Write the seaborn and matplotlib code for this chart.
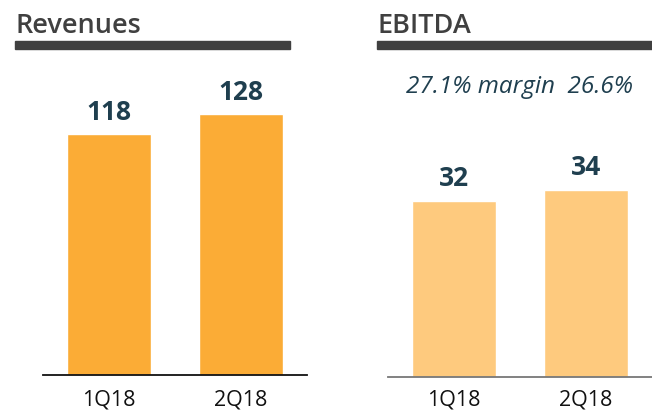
import pandas as pd
import seaborn as sns
import matplotlib.pyplot as plt
from matplotlib.patches import Rectangle

quarters = ['1Q18', '2Q18']
revenues = [118, 128]
ebitda = [32, 34]
margins = ['27.1%', '26.6%']

W, H = 652, 414
label_color = '#1f3f4f'
head_color = '#404040'

sns.set_theme(style='white')
plt.rcParams['font.family'] = ['Open Sans', 'DejaVu Sans']

fig = plt.figure(figsize=(W / 100, H / 100), dpi=100)


def px_axes(x0, x1, ybase, ytop):
    return fig.add_axes([x0 / W, (H - ybase) / H, (x1 - x0) / W, (ybase - ytop) / H])


def panel(ax, values, color, ymax, base_color, pad):
    df = pd.DataFrame({'q': quarters, 'v': values})
    sns.barplot(data=df, x='q', y='v', color=color, width=0.63, saturation=1, ax=ax)
    ax.set_xlim(-0.5, 1.5)
    ax.set_ylim(0, ymax)
    for i, v in enumerate(values):
        ax.text(i, v + ymax * 0.03, str(v), ha='center', va='bottom',
                fontsize=19, fontweight='bold', color=label_color)
    sns.despine(ax=ax, left=True)
    ax.spines['bottom'].set_color(base_color)
    ax.spines['bottom'].set_linewidth(1.3)
    ax.set_yticks([])
    ax.set_xlabel('')
    ax.set_ylabel('')
    ax.tick_params(axis='x', length=0, pad=pad, labelsize=15.5, colors='#111111')


ax1 = px_axes(43, 307, 376, 60)
panel(ax1, revenues, '#fbac36', 155, '#111111', 10)

ax2 = px_axes(388, 652, 378, 60)
panel(ax2, ebitda, '#feca7e', 57.8, '#777777', 8)

# section headers
fig.text(15 / W, 1 - 33 / H, 'Revenues', fontsize=19.5, fontweight='semibold',
         color=head_color, ha='left', va='baseline')
fig.text(377 / W, 1 - 33 / H, 'EBITDA', fontsize=19.5, fontweight='semibold',
         color=head_color, ha='left', va='baseline')
fig.patches.append(Rectangle((15 / W, 1 - 50 / H), 275 / W, 8 / H,
                             transform=fig.transFigure, color=head_color))
fig.patches.append(Rectangle((377 / W, 1 - 50 / H), 275 / W, 8 / H,
                             transform=fig.transFigure, color=head_color))

fig.text(520 / W, 1 - 87 / H, f'{margins[0]} margin  {margins[1]}', fontsize=17.5,
         style='italic', color=label_color, ha='center', va='center')

fig.savefig('out.png', dpi=100)
